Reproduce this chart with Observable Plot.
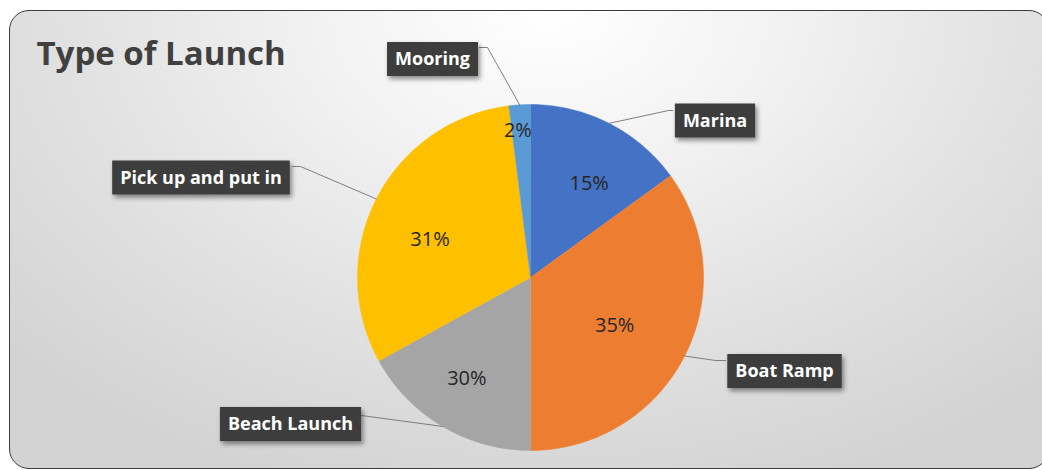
<!DOCTYPE html>
<html><head><meta charset="utf-8">
<script src="https://cdn.jsdelivr.net/npm/d3@7"></script>
<script src="https://cdn.jsdelivr.net/npm/@observablehq/plot@0.6"></script>
<style>
html,body{margin:0;padding:0;background:#ffffff;}
#chart{position:relative;width:1042px;height:470px;overflow:hidden;}
#frame{position:absolute;left:9px;top:10px;width:1040px;height:459px;box-sizing:border-box;
  border:1.5px solid #3c3c3c;border-radius:20px;
  background:radial-gradient(ellipse 70% 110% at 52% 0%, #ffffff 0%, #f3f3f3 30%, #e2e2e2 65%, #d3d3d3 100%);}
#chart svg{position:absolute;left:0;top:0;}
</style>
</head><body>
<div id="chart"><div id="frame"></div></div>
<script>
// ---- data ----
const title = "Type of Launch";
const categories = ["Marina", "Boat Ramp", "Beach Launch", "Pick up and put in", "Mooring"];
const values = [15, 35, 17, 31, 2];
const pctLabels = ["15%", "35%", "30%", "31%", "2%"];
const colors = ["#4472C4", "#ED7D31", "#A5A5A5", "#FFC000", "#5B9BD5"];

// ---- layout ----
const cx = 530, cy = 277, R = 173;
const pctLayout = [{rf: 0.64, da: 5}, {rf: 0.56, da: 2.7}, {rf: 0.69, da: 1.6}, {rf: 0.62, da: -6.5}, {rf: 0.855, da: -1.3}];
const calloutLayout = [
  {bx: 714.5, by: 120.5, elbow: [668, 110], end: [672, 110]},
  {bx: 784, by: 371, elbow: [715, 360], end: [725, 360]},
  {bx: 290, by: 424, elbow: [361, 415], end: [361, 415]},
  {bx: 200.5, by: 177.5, elbow: [300, 166], end: [292, 166]},
  {bx: 432, by: 59, elbow: [487, 47], end: [479, 47]}
];

const total = d3.sum(values);
const deg = Math.PI / 180;
const px = (a, r) => cx + r * Math.sin(a);
const py = (a, r) => cy - r * Math.cos(a);

let acc = 0;
const slices = categories.map((name, i) => {
  const a0 = acc / total * 2 * Math.PI;
  acc += values[i];
  const a1 = acc / total * 2 * Math.PI;
  return {name, a0, a1, mid: (a0 + a1) / 2};
});

const piePts = [];
slices.forEach(s => {
  piePts.push({name: s.name, x: cx, y: cy});
  const n = Math.max(2, Math.ceil((s.a1 - s.a0) / deg));
  for (let k = 0; k <= n; k++) {
    const a = s.a0 + (s.a1 - s.a0) * k / n;
    piePts.push({name: s.name, x: px(a, R), y: py(a, R)});
  }
});

const pctPts = slices.map((s, i) => {
  const a = s.mid + pctLayout[i].da * deg, r = pctLayout[i].rf * R;
  return {label: pctLabels[i], x: px(a, r), y: py(a, r)};
});

const leaderPts = [];
slices.forEach((s, i) => {
  const L = calloutLayout[i];
  leaderPts.push({name: s.name, x: px(s.mid, R), y: py(s.mid, R)});
  leaderPts.push({name: s.name, x: L.elbow[0], y: L.elbow[1]});
  leaderPts.push({name: s.name, x: L.end[0], y: L.end[1]});
});

const calloutPts = slices.map((s, i) => ({name: s.name, x: calloutLayout[i].bx, y: calloutLayout[i].by}));

const chart = Plot.plot({
  width: 1042, height: 470,
  margin: 0,
  x: {type: "identity", axis: null},
  y: {type: "identity", axis: null},
  color: {domain: categories, range: colors},
  style: {background: "transparent", fontFamily: "'Open Sans', sans-serif", overflow: "visible"},
  marks: [
    Plot.line(piePts, {x: "x", y: "y", z: "name", fill: "name", stroke: "name", strokeWidth: 0.5, curve: "linear"}),
    Plot.text(pctPts, {x: "x", y: "y", text: "label", fontSize: 20, fill: "#262626", fontFamily: "'Open Sans', sans-serif"}),
    Plot.line(leaderPts, {x: "x", y: "y", z: "name", stroke: "#7f7f7f", strokeWidth: 1}),
    Plot.text(calloutPts, {x: "x", y: "y", text: "name", fontSize: 18, fontWeight: "bold", fill: "#ffffff", className: "callout", fontFamily: "'Open Sans', sans-serif"}),
    Plot.text([title], {text: d => d, frameAnchor: "top-left", lineAnchor: "middle", dx: 36, dy: 54, textAnchor: "start", fontSize: 33, fontWeight: "bold", fill: "#404040", fontFamily: "'Open Sans', sans-serif"})
  ]
});
document.getElementById("chart").appendChild(chart);

// dark label boxes with drop shadow behind callout texts
const svg = d3.select(chart);
const defs = svg.insert("defs", ":first-child");
defs.append("filter").attr("id", "sh").attr("x", "-20%").attr("y", "-40%").attr("width", "150%").attr("height", "200%")
  .append("feDropShadow").attr("dx", 2).attr("dy", 3).attr("stdDeviation", 2.5)
  .attr("flood-color", "#000").attr("flood-opacity", 0.45);
const g = svg.select("g.callout");
const boxes = svg.insert("g", "g.callout");
const sRect = chart.getBoundingClientRect();
g.selectAll("text").each(function(d, i) {
  const r = this.getBoundingClientRect();
  const w = r.width + 16, h = 34;
  const ccx = r.left - sRect.left + r.width / 2;
  const ccy = calloutPts[i] ? calloutPts[i].y : 0;
  boxes.append("rect").attr("x", ccx - w / 2).attr("y", ccy - h / 2).attr("width", w).attr("height", h)
    .attr("fill", "#3d3d3d").attr("filter", "url(#sh)");
});
</script>
</body></html>
